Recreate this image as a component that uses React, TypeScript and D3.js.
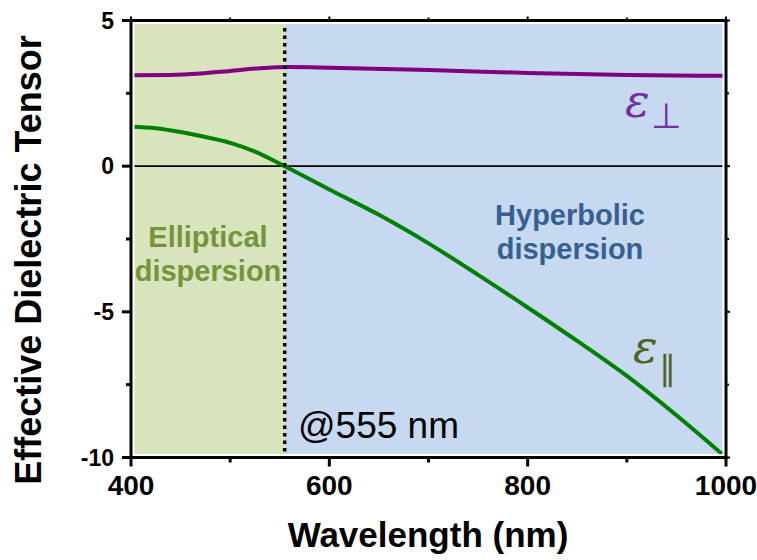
import React from "react";
import * as d3 from "d3";

// Wavelength samples (nm) and the two effective permittivity components
const wavelengthPerp = [400, 440, 470, 500, 530, 560, 600, 700, 800, 900, 1000];
const epsPerp = [3.12, 3.13, 3.18, 3.27, 3.36, 3.4, 3.38, 3.3, 3.2, 3.13, 3.1];

const wavelengthPar = [400, 425, 450, 475, 500, 525, 555, 600, 650, 700, 750, 800, 850, 900, 950, 1000];
const epsPar = [1.35, 1.3, 1.17, 1.0, 0.8, 0.5, 0, -0.8, -1.67, -2.65, -3.73, -4.85, -6.0, -7.2, -8.55, -10];

const xTicks = [400, 600, 800, 1000];
const xMinorTicks = [500, 700, 900];
const yTicks = [5, 0, -5, -10];
const yMinorTicks = [2.5, -2.5, -7.5];

const crossover = 555;

const W = 757;
const H = 560;
const left = 131;
const right = 726;
const top = 20.5;
const bottom = 457.5;

export default function App() {
  const x = d3.scaleLinear().domain([400, 1000]).range([left, right]);
  const y = d3.scaleLinear().domain([-10, 5]).range([bottom, top]);

  const line = d3
    .line<[number, number]>()
    .x((d) => x(d[0]))
    .y((d) => y(d[1]))
    .curve(d3.curveMonotoneX);

  const perpPath = line(wavelengthPerp.map((w, i) => [w, epsPerp[i]]) as [number, number][]) || "";
  const parPath = line(wavelengthPar.map((w, i) => [w, epsPar[i]]) as [number, number][]) || "";

  const sans = "'Liberation Sans', Arial, sans-serif";

  return (
    <svg
      width={W}
      height={H}
      style={{ position: "absolute", left: 0, top: 0, background: "#fff" }}
      fontFamily={sans}
    >
      {/* dispersion regions */}
      <rect x={x(400)} y={top} width={x(crossover) - x(400)} height={bottom - top} fill="#d8e4bc" />
      <rect x={x(crossover)} y={top} width={x(1000) - x(crossover)} height={bottom - top} fill="#c6d9f0" />

      {/* zero line */}
      <line x1={left} x2={right} y1={y(0)} y2={y(0)} stroke="#000" strokeWidth={1.6} />

      {/* region labels */}
      <g fontWeight="bold" fontSize={29} textAnchor="middle" fill="#77933c">
        <text x={208} y={247}>Elliptical</text>
        <text x={208} y={281}>dispersion</text>
      </g>
      <g fontWeight="bold" fontSize={29} textAnchor="middle" fill="#376092">
        <text x={570} y={225}>Hyperbolic</text>
        <text x={570} y={259}>dispersion</text>
      </g>

      {/* curves */}
      <path d={perpPath} fill="none" stroke="#800080" strokeWidth={4} />
      <path d={parPath} fill="none" stroke="#008000" strokeWidth={4} />

      {/* crossover marker */}
      <line
        x1={x(crossover)}
        x2={x(crossover)}
        y1={top}
        y2={bottom}
        stroke="#000"
        strokeWidth={3.5}
        strokeDasharray="3.5,4"
      />
      <text x={298} y={438} fontSize={37} fill="#000">@555 nm</text>

      {/* component labels */}
      <text x={625} y={117} fontSize={46} fontStyle="italic" fill="#7030a0" fontFamily="'DejaVu Serif', serif">ε</text>
      <text x={651} y={128} fontSize={35} fill="#7030a0" fontFamily="'DejaVu Sans', sans-serif">⊥</text>
      <text x={633} y={363} fontSize={46} fontStyle="italic" fill="#4f6228" fontFamily="'DejaVu Serif', serif">ε</text>
      <text x={659} y={380} fontSize={34} fill="#4f6228" fontFamily="'DejaVu Sans', sans-serif">∥</text>

      {/* frame */}
      <rect x={left} y={top} width={right - left} height={bottom - top} fill="none" stroke="#fff" strokeWidth={7} />
      <rect x={left} y={top} width={right - left} height={bottom - top} fill="none" stroke="#000" strokeWidth={3} />

      {/* x ticks */}
      {xTicks.map((t) => (
        <g key={"x" + t}>
          <line x1={x(t)} x2={x(t)} y1={bottom} y2={bottom + 9} stroke="#000" strokeWidth={3} />
          <line x1={x(t)} x2={x(t)} y1={top} y2={top - 4} stroke="#000" strokeWidth={2} />
          <text x={x(t)} y={495} textAnchor="middle" fontWeight="bold" fontSize={28}>{t}</text>
        </g>
      ))}
      {xMinorTicks.map((t) => (
        <g key={"xm" + t}>
          <line x1={x(t)} x2={x(t)} y1={bottom} y2={bottom + 5} stroke="#000" strokeWidth={3} />
          <line x1={x(t)} x2={x(t)} y1={top} y2={top - 3} stroke="#000" strokeWidth={2} />
        </g>
      ))}

      {/* y ticks */}
      {yTicks.map((t) => (
        <g key={"y" + t}>
          <line x1={left} x2={left - 9} y1={y(t)} y2={y(t)} stroke="#000" strokeWidth={3} />
          <line x1={right} x2={right + 4} y1={y(t)} y2={y(t)} stroke="#000" strokeWidth={2} />
          <text x={114} y={y(t) + 8} textAnchor="end" fontWeight="bold" fontSize={23}>{t}</text>
        </g>
      ))}
      {yMinorTicks.map((t) => (
        <g key={"ym" + t}>
          <line x1={left} x2={left - 5} y1={y(t)} y2={y(t)} stroke="#000" strokeWidth={3} />
          <line x1={right} x2={right + 3} y1={y(t)} y2={y(t)} stroke="#000" strokeWidth={2} />
        </g>
      ))}

      {/* axis titles */}
      <text x={428} y={547} textAnchor="middle" fontWeight="bold" fontSize={35}>Wavelength (nm)</text>
      <text
        transform="translate(41,260) rotate(-90)"
        textAnchor="middle"
        fontWeight="bold"
        fontSize={36}
      >
        Effective Dielectric Tensor
      </text>
    </svg>
  );
}
